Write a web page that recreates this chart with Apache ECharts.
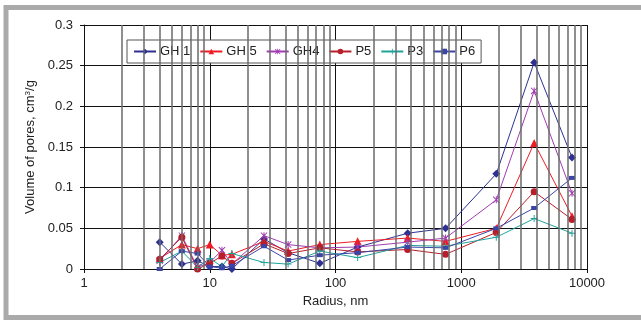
<!DOCTYPE html>
<html>
<head>
<meta charset="utf-8">
<script src="https://cdn.jsdelivr.net/npm/echarts@6/dist/echarts.min.js"></script>
<style>
  html, body { margin: 0; padding: 0; background: #fff; }
  #chart { width: 641px; height: 320px; }
</style>
</head>
<body>
<div id="chart"></div>
<script>
// pore radius, nm
const radius = [4, 6, 8, 10, 12.5, 15, 27, 42, 75, 150, 375, 750, 1900, 3800, 7600]

// volume of pores, cm3/g
const gh1 = [0.033, 0.006, 0.010, 0.003, 0.003, 0.000, 0.037, 0.020, 0.007, 0.027, 0.044, 0.050, 0.117, 0.254, 0.137]
const gh5 = [0.013, 0.030, 0.025, 0.030, 0.017, 0.018, 0.034, 0.022, 0.030, 0.034, 0.038, 0.034, 0.050, 0.155, 0.065]
const gh4 = [0.010, 0.041, 0.002, 0.008, 0.023, 0.006, 0.041, 0.030, 0.026, 0.027, 0.033, 0.038, 0.085, 0.219, 0.093]
const p5 = [0.012, 0.039, 0.000, 0.007, 0.016, 0.007, 0.031, 0.019, 0.026, 0.021, 0.024, 0.018, 0.045, 0.095, 0.061]
const p3 = [0.008, 0.022, 0.002, 0.013, 0.003, 0.019, 0.008, 0.006, 0.022, 0.014, 0.029, 0.028, 0.039, 0.062, 0.044]
const p6 = [0.000, 0.022, 0.019, 0.003, 0.001, 0.004, 0.028, 0.011, 0.017, 0.020, 0.027, 0.026, 0.050, 0.075, 0.112]

const seriesNames = ['GH 1', 'GH 5', 'GH4', 'P5', 'P3', 'P6']
const xDecades = [1, 10, 100, 1000, 10000]

// minor log grid lines (2..9 of every decade)
const minorLines = []
for (let d = 0; d < xDecades.length - 1; d++) {
  for (let k = 2; k <= 9; k++) minorLines.push({ xAxis: xDecades[d] * k })
}

const pairs = (ys) => radius.map((x, i) => [x, ys[i]])

const FONT = '"Liberation Sans", Arial, sans-serif'
// filled outlines so the marks look like thin strokes
const starPath = 'path://M4.3,0 L5.7,0 L5.7,10 L4.3,10 Z M0,1 L1,0 L10,9 L9,10 Z M9,0 L10,1 L1,10 L0,9 Z'
const plusPath = 'path://M4.3,0 L5.7,0 L5.7,10 L4.3,10 Z M0,4.3 L10,4.3 L10,5.7 L0,5.7 Z'
const dashPath = 'path://M0,0 L10,0 L10,6 L0,6 Z'

function lineSeries(name, ys, color, symbol, size) {
  return {
    name,
    type: 'line',
    data: pairs(ys),
    symbol,
    symbolSize: size,
    z: 3,
    lineStyle: { color, width: 1 },
    itemStyle: { color },
    emphasis: { disabled: true }
  }
}

const chart = echarts.init(document.getElementById('chart'), null, { renderer: 'canvas' })

chart.setOption({
  animation: false,
  backgroundColor: '#fff',
  textStyle: { fontFamily: FONT },
  graphic: [{
    type: 'rect',
    shape: { x: 6, y: 7.5, width: 700, height: 310 },
    style: { fill: 'none', stroke: '#aaaaaa', lineWidth: 5 },
    silent: true,
    z: -1
  }],
  grid: { left: 84, right: 54, top: 25, bottom: 51 },
  legend: {
    data: seriesNames,
    left: 127,
    top: 40,
    padding: [5, 6, 5, 6],
    itemGap: 9,
    itemWidth: 22,
    itemHeight: 7,
    backgroundColor: '#fff',
    borderColor: '#555',
    borderWidth: 1,
    textStyle: { fontSize: 13, color: '#222', fontFamily: FONT, padding: [0, 0, 0, -1] }
  },
  xAxis: {
    type: 'log',
    logBase: 10,
    min: 1,
    max: 10000,
    name: 'Radius, nm',
    nameLocation: 'middle',
    nameGap: 23,
    nameTextStyle: { fontSize: 13, color: '#222', fontFamily: FONT },
    axisLine: { lineStyle: { color: '#111', width: 1 } },
    axisTick: { show: true, length: 4, lineStyle: { color: '#111' } },
    axisLabel: {
      fontSize: 13, color: '#222', margin: 8, fontFamily: FONT,
      formatter: (v) => String(Math.round(v))
    },
    splitLine: { show: true, lineStyle: { color: '#111', width: 1 } }
  },
  yAxis: {
    type: 'value',
    min: 0,
    max: 0.3,
    interval: 0.05,
    name: 'Volume of pores, cm{sup|3}/g',
    nameLocation: 'middle',
    nameRotate: 90,
    nameGap: 46,
    nameTextStyle: {
      fontSize: 13, color: '#222', fontFamily: FONT,
      rich: { sup: { fontSize: 8, verticalAlign: 'top', padding: [0, 0, 6, 0], color: '#222' } }
    },
    axisLine: { show: true, lineStyle: { color: '#111', width: 1 } },
    axisTick: { show: true, length: 4, lineStyle: { color: '#111' } },
    axisLabel: {
      fontSize: 13, color: '#222', margin: 11, fontFamily: FONT,
      formatter: (v) => String(+v.toFixed(2))
    },
    splitLine: { show: true, lineStyle: { color: '#111', width: 1 } }
  },
  series: [
    {
      name: 'minor-grid',
      type: 'line',
      data: [],
      z: 1,
      silent: true,
      markLine: {
        silent: true,
        symbol: 'none',
        label: { show: false },
        lineStyle: { color: '#6a6a6a', width: 1.5, type: 'solid' },
        emphasis: { disabled: true },
        data: minorLines
      }
    },
    lineSeries('GH 1', gh1, '#2e3192', 'diamond', 8),
    lineSeries('GH 5', gh5, '#ee1c25', 'triangle', 8),
    lineSeries('GH4', gh4, '#a03cb0', starPath, 7),
    lineSeries('P5', p5, '#b81e2a', 'circle', 7),
    lineSeries('P3', p3, '#20a39b', plusPath, 7),
    lineSeries('P6', p6, '#3a45a8', dashPath, [6, 4])
  ]
})
</script>
</body>
</html>
